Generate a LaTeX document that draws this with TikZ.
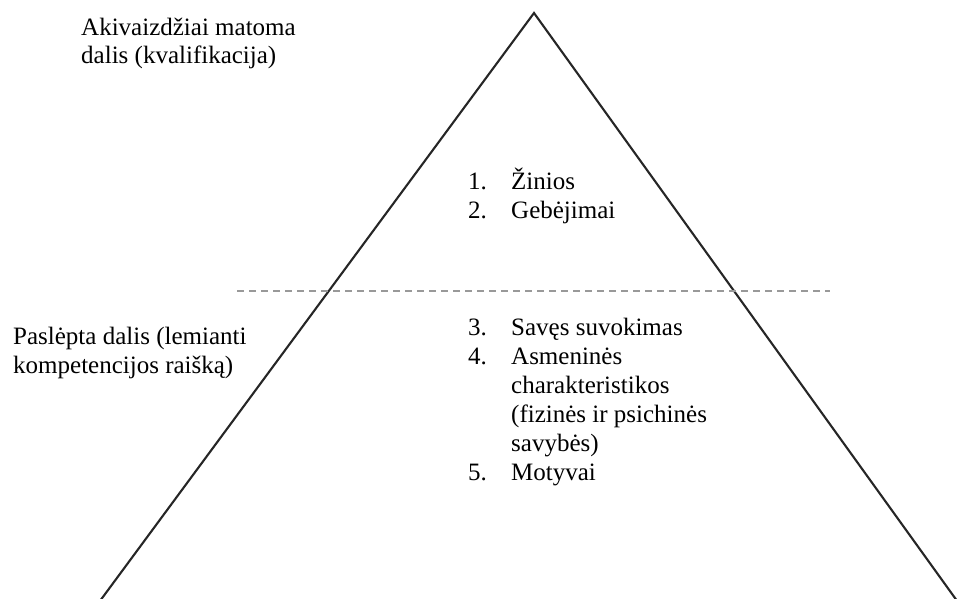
\documentclass[tikz,border=0pt]{standalone}
\usepackage{fontspec}
\setmainfont{Liberation Serif}
\tikzset{
  txt/.style={anchor=base west, inner sep=0pt, font=\fontsize{25}{29}\selectfont},
  edge/.style={line width=2.1pt, black!85},
  divider/.style={line width=1.8pt, gray!80, dash pattern=on 7pt off 5pt}
}
\begin{document}
\begin{tikzpicture}[x=1pt,y=-1pt]
\useasboundingbox (0,0) rectangle (958,599);
% pyramid
\coordinate (apex) at (534,13);
\coordinate (baseL) at (97,605);
\coordinate (baseR) at (960,605);
\draw[edge] (baseL) -- (apex) -- (baseR);
% visible / hidden border
\coordinate (divL) at (237,291);
\coordinate (divR) at (830,291);
\draw[divider] (divL) -- (divR);
% side labels
\node[txt] (vis1) at (81,36) {Akivaizdžiai matoma};
\node[txt] (vis2) at (81,64) {dalis (kvalifikacija)};
\node[txt] (hid1) at (13,344) {Paslėpta dalis (lemianti};
\node[txt] (hid2) at (13,373) {kompetencijos raišką)};
% upper part
\node[txt] (num1) at (468,189) {1.};
\node[txt] (item1) at (511,189) {Žinios};
\node[txt] (num2) at (468,218) {2.};
\node[txt] (item2) at (511,218) {Gebėjimai};
% lower part
\node[txt] (num3) at (468,335) {3.};
\node[txt] (item3) at (511,335) {Savęs suvokimas};
\node[txt] (num4) at (468,364) {4.};
\node[txt] (item4a) at (511,364) {Asmeninės};
\node[txt] (item4b) at (511,393) {charakteristikos};
\node[txt] (item4c) at (511,422) {(fizinės ir psichinės};
\node[txt] (item4d) at (511,451) {savybės)};
\node[txt] (num5) at (468,480) {5.};
\node[txt] (item5) at (511,480) {Motyvai};
\end{tikzpicture}
\end{document}
